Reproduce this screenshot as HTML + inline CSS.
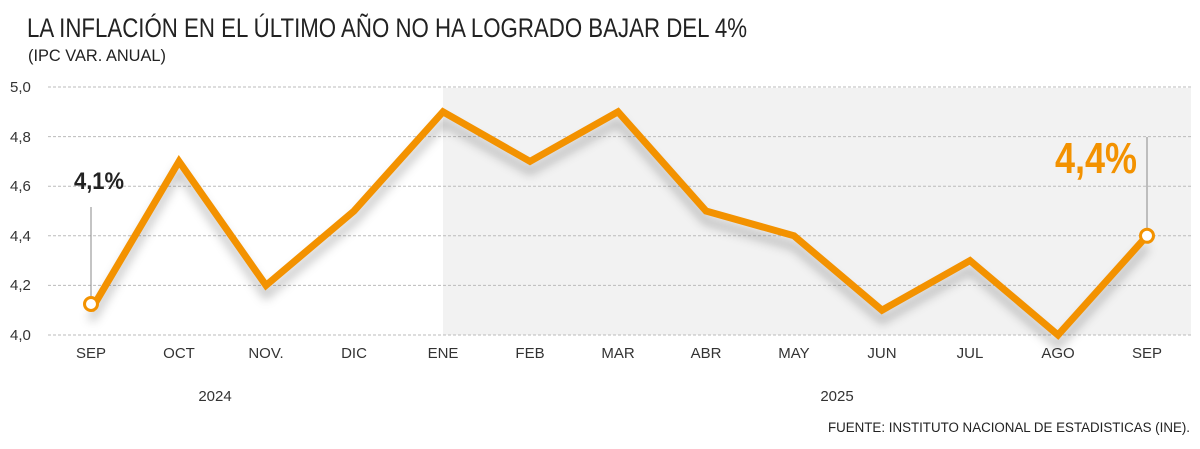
<!DOCTYPE html>
<html><head><meta charset="utf-8"><style>
body{margin:0;background:#fff;width:1200px;height:444px;overflow:hidden;font-family:"Liberation Sans Narrow","Liberation Sans",sans-serif}
</style></head><body>
<svg width="1200" height="444" xmlns="http://www.w3.org/2000/svg" font-family="Liberation Sans, sans-serif">
<defs><filter id="sh" x="-10%" y="-10%" width="120%" height="140%"><feGaussianBlur stdDeviation="5"/></filter></defs>
<text x="27" y="37" font-size="27" fill="#222" textLength="720" lengthAdjust="spacingAndGlyphs">LA INFLACIÓN EN EL ÚLTIMO AÑO NO HA LOGRADO BAJAR DEL 4%</text>
<text x="28" y="61" font-size="17" fill="#222" textLength="138" lengthAdjust="spacingAndGlyphs">(IPC VAR. ANUAL)</text>
<rect x="443" y="88" width="748" height="247" fill="#f2f2f2"/>
<g stroke="#bbb" stroke-width="1" stroke-dasharray="3,2">
<line x1="48" x2="1192" y1="87" y2="87"/><line x1="48" x2="1192" y1="136.6" y2="136.6"/><line x1="48" x2="1192" y1="186.2" y2="186.2"/><line x1="48" x2="1192" y1="235.8" y2="235.8"/><line x1="48" x2="1192" y1="285.4" y2="285.4"/><line x1="48" x2="1192" y1="335" y2="335"/>
</g>
<g font-size="15" fill="#333">
<text x="10" y="92">5,0</text><text x="10" y="142">4,8</text><text x="10" y="191">4,6</text><text x="10" y="241">4,4</text><text x="10" y="290">4,2</text><text x="10" y="340">4,0</text>
</g>
<g font-size="15" fill="#333" text-anchor="middle">
<text x="91" y="358">SEP</text><text x="179" y="358">OCT</text><text x="266" y="358">NOV.</text><text x="354" y="358">DIC</text><text x="443" y="358">ENE</text><text x="530" y="358">FEB</text><text x="618" y="358">MAR</text><text x="706" y="358">ABR</text><text x="794" y="358">MAY</text><text x="882" y="358">JUN</text><text x="970" y="358">JUL</text><text x="1058" y="358">AGO</text><text x="1147" y="358">SEP</text>
<text x="215" y="401">2024</text><text x="837" y="401">2025</text>
</g>
<text x="1190" y="432" font-size="13.5" fill="#222" text-anchor="end" textLength="362" lengthAdjust="spacingAndGlyphs">FUENTE: INSTITUTO NACIONAL DE ESTADISTICAS (INE).</text>
<line x1="91" y1="207" x2="91" y2="305" stroke="#888" stroke-width="1"/>
<line x1="1147" y1="137" x2="1147" y2="230" stroke="#888" stroke-width="1"/>
<polyline points="91,320 179,171 266,295 354,221 443,122 530,171 618,122 706,221 794,246 882,320 970,270 1058,345 1147,246" fill="none" stroke="#000" stroke-opacity="0.25" stroke-width="7" filter="url(#sh)"/>
<polyline points="91,310.2 179,161.4 266,285.4 354,211 443,111.8 530,161.4 618,111.8 706,211 794,235.8 882,310.2 970,260.6 1058,335 1147,235.8" fill="none" stroke="#F39200" stroke-width="7" stroke-linejoin="miter"/>
<circle cx="91" cy="304" r="6.5" fill="#fff" stroke="#F39200" stroke-width="3"/>
<circle cx="1147" cy="235.8" r="6.5" fill="#fff" stroke="#F39200" stroke-width="3"/>
<text x="74" y="189" font-size="24" font-weight="bold" fill="#222" textLength="50" lengthAdjust="spacingAndGlyphs">4,1%</text>
<text x="1055" y="173" font-size="44" font-weight="bold" fill="#F39200" textLength="82" lengthAdjust="spacingAndGlyphs">4,4%</text>
</svg>
</body></html>
